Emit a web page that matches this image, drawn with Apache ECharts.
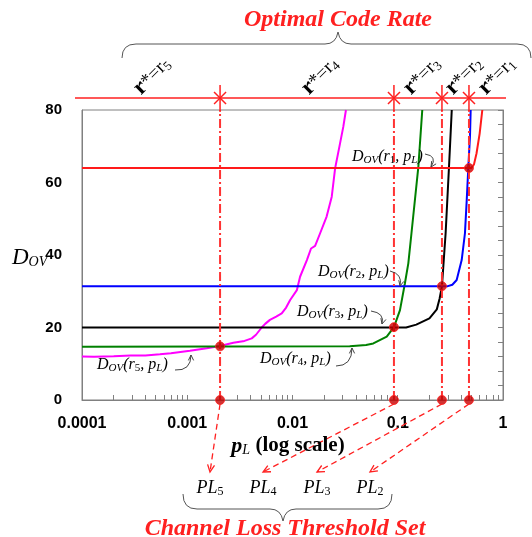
<!DOCTYPE html>
<html><head><meta charset="utf-8">
<script src="https://cdn.jsdelivr.net/npm/echarts@6/dist/echarts.min.js"></script>
<style>html,body{margin:0;padding:0;background:#fff}#c{width:532px;height:537px}</style>
</head><body><div id="c"></div>
<script>
// ---------------- data ----------------
const xTickLabels = ['0.0001', '0.001', '0.01', '0.1', '1'];
const yMin = 0, yMax = 80, yInterval = 20;

// D_OV(r_k, p_L) curves as [pL, D]
const curveR1 = [[0.0001,64],[0.5,64],[0.53,65],[0.56,68],[0.6,73.5],[0.636,80]];
const curveR2 = [[0.0001,31.4],[0.3,31.4],[0.33,31.8],[0.363,33.1],[0.405,38.6],[0.435,46],[0.452,55],[0.468,64],[0.486,73],[0.493,80]];
const curveR3 = [[0.0001,20],[0.12,20],[0.15,20.8],[0.2,22.5],[0.235,25],[0.25,28],[0.263,31.4],[0.285,46],[0.307,64.4],[0.326,80]];
const curveR4 = [[0.0001,14.7],[0.035,14.8],[0.05,15.2],[0.0586,15.6],[0.0786,17.5],[0.092,20.1],[0.105,24.8],[0.117,32.2],[0.126,37.7],[0.135,46],[0.157,64.4],[0.171,80]];
const curveR5 = [[0.0001,12],[0.00013,11.9],[0.0002,12.1],[0.00029,12.3],[0.0004,12.3],[0.00055,12.6],[0.0007,12.9],[0.00106,13.6],[0.00153,14.3],[0.00205,14.9],[0.00274,15.8],[0.0035,16.3],[0.0041,17.0],[0.0045,18.0],[0.0051,20.0],[0.0055,21.0],[0.0061,22.1],[0.0070,23.0],[0.0079,23.9],[0.0087,25.5],[0.0095,27.6],[0.0110,30.3],[0.0118,34.0],[0.0137,38.6],[0.0150,41.8],[0.0164,42.5],[0.0183,46.0],[0.0211,50.6],[0.0236,56.1],[0.0254,63.9],[0.0283,70.8],[0.0304,75.4],[0.0322,80]];

// thresholds PL5..PL2 and D where the curves cross
const thresholdPL = [0.00205, 0.092, 0.263, 0.475];
const thresholdD = [14.8, 20.1, 31.4, 64];
const thresholdIdx = ['5', '4', '3', '2'];
const rateIdx = ['5', '4', '3', '2', '1'];
const curveIdx = ['1', '2', '3', '4', '5'];

// ---------------- chart ----------------
const chart = echarts.init(document.getElementById('c'), null, {renderer: 'canvas'});
const minorTicks = [];
for (let e = -4; e <= 0; e++) for (let m = 1; m <= 9; m++) { const v = m * Math.pow(10, e); if (v <= 1.0000001) minorTicks.push(v); }

const AX = '#808080';
const serif = "'Liberation Serif','Times New Roman',serif";
const sans = "'Liberation Sans',Arial,sans-serif";

const curves = [curveR1, curveR2, curveR3, curveR4, curveR5];
const colors = ['#ff1a1a', '#0000ff', '#000000', '#008000', '#ff00ff'];

const series = [];
for (let k = curves.length - 1; k >= 0; k--) {
  series.push({type: 'line', data: curves[k], symbol: 'none', lineStyle: {color: colors[k], width: 2}, z: 3, animation: false});
}
thresholdPL.forEach(t => {
  series.push({type: 'line', data: [[t, yMin], [t, yMax]], symbol: 'none', lineStyle: {color: '#ff3333', width: 2, type: [9, 3, 2, 3]}, z: 4, animation: false});
});
series.push({type: 'scatter', data: thresholdPL.map((t, i) => [t, thresholdD[i]]), symbolSize: 9,
  itemStyle: {color: '#c40000', borderColor: '#ff2020', borderWidth: 1}, z: 6, clip: false, animation: false});
series.push({type: 'scatter', data: thresholdPL.map(t => [t, 0]), symbolSize: 9,
  itemStyle: {color: '#c40000', borderColor: '#ff2020', borderWidth: 1}, z: 6, clip: false, animation: false});

const option = {
  animation: false,
  backgroundColor: '#fff',
  grid: {left: 82, right: 29, top: 110, bottom: 137, show: true, borderColor: AX, borderWidth: 1, backgroundColor: 'transparent'},
  xAxis: {type: 'log', logBase: 10, min: 0.0001, max: 1,
    axisLine: {lineStyle: {color: AX, width: 1}},
    axisTick: {show: true, inside: true, length: 5, customValues: minorTicks, lineStyle: {color: AX}},
    splitLine: {show: false}, minorTick: {show: false},
    axisLabel: {color: '#000', fontFamily: sans, fontWeight: 'bold', fontSize: 16, margin: 16,
      formatter: v => xTickLabels[Math.round(Math.log10(v)) + 4]}},
  yAxis: [
    {type: 'value', min: yMin, max: yMax, interval: yInterval, position: 'left',
      axisLine: {show: true, lineStyle: {color: AX}}, axisTick: {show: false}, splitLine: {show: false},
      axisLabel: {color: '#000', fontFamily: sans, fontWeight: 'bold', fontSize: 15, margin: 20}},
    {type: 'value', min: yMin, max: yMax, interval: 4, position: 'right',
      axisLine: {show: true, lineStyle: {color: AX}}, axisTick: {show: true, inside: true, length: 5, lineStyle: {color: AX}},
      splitLine: {show: false}, axisLabel: {show: false}}
  ],
  series: series
};
chart.setOption(option);

// ---------------- annotations ----------------
const px = (x, y) => chart.convertToPixel({gridIndex: 0}, [x, y]);
const g = [];
const red = '#ff2020';

function richDov(k) {
  return {
    text: '{i|D}{s|OV}{i|(r}{n|' + k + '}{i|, p}{s|L}{i|)}',
    rich: {
      i: {fontFamily: serif, fontStyle: 'italic', fontSize: 16, color: '#000'},
      s: {fontFamily: serif, fontStyle: 'italic', fontSize: 11, color: '#000', padding: [7, 0, 0, 0]},
      n: {fontFamily: serif, fontSize: 11, color: '#000', padding: [7, 0, 0, 0]}
    }
  };
}
function addText(x, y, obj, align, extra) {
  g.push(Object.assign({type: 'text', x: x, y: y, z: 20, style: Object.assign({}, obj, {align: align || 'left', verticalAlign: 'middle'})}, extra || {}));
}
function arrowHead(x, y, fx, fy, color, len, width) {
  const a = Math.atan2(y - fy, x - fx);
  const s = 0.45;
  g.push({type: 'polyline', z: 20, shape: {points: [
    [x - len * Math.cos(a - s), y - len * Math.sin(a - s)], [x, y], [x - len * Math.cos(a + s), y - len * Math.sin(a + s)]]},
    style: {stroke: color, lineWidth: width, fill: null}});
}
function bez(x1, y1, cx, cy, x2, y2, color, w) {
  g.push({type: 'bezierCurve', z: 20, shape: {x1: x1, y1: y1, x2: x2, y2: y2, cpx1: cx, cpy1: cy}, style: {stroke: color, lineWidth: w, fill: null}});
}
function seg(x1, y1, x2, y2, color, w, dash) {
  const st = {stroke: color, lineWidth: w};
  if (dash) st.lineDash = dash;
  g.push({type: 'line', z: 15, shape: {x1: x1, y1: y1, x2: x2, y2: y2}, style: st});
}
function curvedArrow(x1, y1, cx, cy, x2, y2) {
  bez(x1, y1, cx, cy, x2, y2, '#444', 1);
  arrowHead(x2, y2, cx, cy, '#444', 6, 1);
}
function brace(xl, xr, yEnd, yMid, yTip, xTip) {
  const c = '#555';
  bez(xl, yEnd, xl, yMid, xl + 14, yMid, c, 1);
  seg(xl + 14, yMid, xTip - 13, yMid, c, 1);
  bez(xTip - 13, yMid, xTip - 2, yMid, xTip, yTip, c, 1);
  bez(xTip, yTip, xTip + 2, yMid, xTip + 13, yMid, c, 1);
  seg(xTip + 13, yMid, xr - 14, yMid, c, 1);
  bez(xr - 14, yMid, xr, yMid, xr, yEnd, c, 1);
}

// curve labels
addText(352, 157, richDov(curveIdx[0]));
curvedArrow(425, 154, 438, 156, 431, 167);
addText(318, 272, richDov(curveIdx[1]));
curvedArrow(390, 271, 403, 274, 400, 286);
addText(297, 312, richDov(curveIdx[2]));
curvedArrow(371, 311, 385, 313, 382, 324);
addText(260, 359, richDov(curveIdx[3]));
curvedArrow(336, 366, 352, 366, 352, 348);
addText(97, 365, richDov(curveIdx[4]));
curvedArrow(175, 370, 191, 371, 191, 355);

// axis titles
addText(12, 258, {text: '{d|D}{s|OV}', rich: {
  d: {fontFamily: serif, fontStyle: 'italic', fontSize: 23, color: '#000'},
  s: {fontFamily: serif, fontStyle: 'italic', fontSize: 14, color: '#000', padding: [9, 0, 0, 0]}}});
addText(288, 446, {text: '{p|p}{s|L}{t| (log scale)}', rich: {
  p: {fontFamily: serif, fontStyle: 'italic', fontWeight: 'bold', fontSize: 22, color: '#000'},
  s: {fontFamily: serif, fontStyle: 'italic', fontSize: 14, color: '#000', padding: [8, 0, 0, 0]},
  t: {fontFamily: serif, fontWeight: 'bold', fontSize: 21, color: '#000'}}}, 'center');

// top: optimal code rate
const topY = 98;
seg(75, topY, 506, topY, red, 1.5);
thresholdPL.forEach(t => {
  const x = px(t, 0)[0];
  seg(x, 85, x, 112, red, 1.5);
  seg(x - 6, topY - 6, x + 6, topY + 6, red, 1.5);
  seg(x - 6, topY + 6, x + 6, topY - 6, red, 1.5);
});
const rateX = [152, 320, 422, 464, 497];
rateIdx.forEach((k, i) => {
  g.push({type: 'text', x: rateX[i], y: 76, rotation: Math.PI / 4, z: 20, style: {
    text: '{b|r}{a|*=r}{n|' + k + '}', align: 'center', verticalAlign: 'middle', rich: {
      b: {fontFamily: serif, fontWeight: 'bold', fontSize: 23, color: '#000'},
      a: {fontFamily: serif, fontSize: 19, color: '#000'},
      n: {fontFamily: serif, fontSize: 13, color: '#000', padding: [9, 0, 0, 0]}}}});
});
brace(122, 531, 58, 44, 32, 338);
addText(338, 20, {text: 'Optimal Code Rate', fontFamily: serif, fontStyle: 'italic', fontWeight: 'bold', fontSize: 24, fill: red}, 'center');

// bottom: channel loss threshold set
const plX = [210, 263, 317, 370];
thresholdPL.forEach((t, i) => {
  const p = px(t, 0);
  const sx = p[0], sy = p[1] + 4;
  const ex = plX[i], ey = 472;
  seg(sx, sy, ex, ey, red, 1.3, [6, 4]);
  arrowHead(ex, ey, sx, sy, red, 8, 1.3);
  addText(ex, 488, {text: '{i|PL}{n|' + thresholdIdx[i] + '}', rich: {
    i: {fontFamily: serif, fontStyle: 'italic', fontSize: 18, color: '#000'},
    n: {fontFamily: serif, fontSize: 12, color: '#000', padding: [7, 0, 0, 0]}}}, 'center');
});
brace(183, 392, 494, 509, 521, 283);
addText(285, 529, {text: 'Channel Loss Threshold Set', fontFamily: serif, fontStyle: 'italic', fontWeight: 'bold', fontSize: 24, fill: red}, 'center');

chart.setOption({graphic: {elements: g}});
</script>
</body></html>
